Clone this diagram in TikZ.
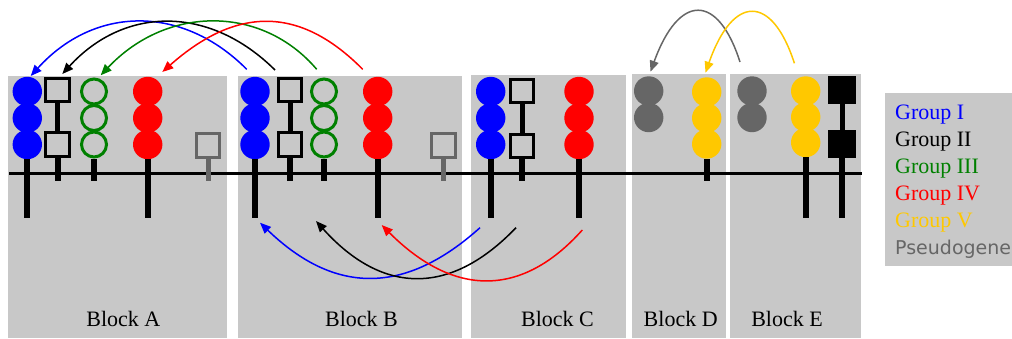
\documentclass[tikz,border=0pt]{standalone}
\usepackage{fontspec}
\setmainfont{Liberation Serif}
\newfontfamily\dejavu{DejaVu Sans}
\usepackage{xcolor}
\usepackage{tikz}
\usetikzlibrary{arrows.meta}
\definecolor{blockgray}{RGB}{200,200,200}
\definecolor{pseudo}{RGB}{102,102,102}
\definecolor{grpIII}{RGB}{0,128,0}
\definecolor{grpV}{RGB}{255,200,0}

\begin{document}
\begin{tikzpicture}[x=1pt, y=-1pt,
      blk/.style={fill=blockgray},
      lbl/.style={anchor=base, inner sep=0pt, font=\fontsize{22}{26}\selectfont},
      leg/.style={anchor=base west, inner sep=0pt, font=\fontsize{22}{26}\selectfont},
      full/.style={circle, fill=#1, minimum size=29.4pt, inner sep=0pt},
      ring/.style={circle, draw=#1, line width=3pt, minimum size=25pt, inner sep=0pt},
      box/.style={rectangle, draw=#1, fill=blockgray, line width=3pt, minimum size=23.7pt, inner sep=0pt},
      blackbox/.style={rectangle, fill=black, minimum size=28pt, inner sep=0pt},
      stem/.style={line width=6pt},
      link/.style={line width=5pt},
      hop/.style={-{Triangle[length=11pt, width=9pt]}, line width=1.5pt},
    ]
    \useasboundingbox (0,0) rectangle (1012,338);
    % blocks and legend box
    \path[blk] (8,76) rectangle (227,338);
    \path[blk] (238,76) rectangle (462,338);
    \path[blk] (471,75) rectangle (626,338);
    \path[blk] (632,74) rectangle (726,338);
    \path[blk] (730,74) rectangle (861,338);
    \path[blk] (885,93) rectangle (1016,266);
    \draw[line width=3pt] (9,173.3) -- (862,173.3);
    \coordinate (low) at (0,218);
    \coordinate (mid) at (0,181);

    % Block A
    \node[full=blue] (blueA1) at (27.3,91.5) {};
    \node[full=blue] (blueA2) at (27.3,118) {};
    \node[full=blue] (blueA3) at (27.3,144.5) {};
    \node[box=black] (sqA1) at (57.5,90) {};
    \node[box=black] (sqA2) at (57.5,144.5) {};
    \node[ring=grpIII] (grnA1) at (94,91.5) {};
    \node[ring=grpIII] (grnA2) at (94,118) {};
    \node[ring=grpIII] (grnA3) at (94,144.5) {};
    \node[full=red] (redA1) at (147.7,91.5) {};
    \node[full=red] (redA2) at (147.7,118) {};
    \node[full=red] (redA3) at (147.7,144.5) {};
    \node[box=pseudo] (psA) at (208,145.5) {};
    \draw[stem] (blueA3.south) -- (blueA3 |- low);
    \draw[link] (sqA1.south) -- (sqA2.north);
    \draw[stem] (sqA2.south) -- (sqA2 |- mid);
    \draw[stem] (grnA3.south) -- (grnA3 |- mid);
    \draw[stem] (redA3.south) -- (redA3 |- low);
    \draw[link, pseudo] (psA.south) -- (psA |- mid);

    % Block B
    \node[full=blue] (blueB1) at (255,91.5) {};
    \node[full=blue] (blueB2) at (255,118) {};
    \node[full=blue] (blueB3) at (255,144.5) {};
    \node[box=black] (sqB1) at (290,90) {};
    \node[box=black] (sqB2) at (290,144.5) {};
    \node[ring=grpIII] (grnB1) at (324,91.5) {};
    \node[ring=grpIII] (grnB2) at (324,118) {};
    \node[ring=grpIII] (grnB3) at (324,144.5) {};
    \node[full=red] (redB1) at (377.7,91.5) {};
    \node[full=red] (redB2) at (377.7,118) {};
    \node[full=red] (redB3) at (377.7,144.5) {};
    \node[box=pseudo] (psB) at (443.3,145.5) {};
    \draw[stem] (blueB3.south) -- (blueB3 |- low);
    \draw[link] (sqB1.south) -- (sqB2.north);
    \draw[stem] (sqB2.south) -- (sqB2 |- mid);
    \draw[stem] (grnB3.south) -- (grnB3 |- mid);
    \draw[stem] (redB3.south) -- (redB3 |- low);
    \draw[link, pseudo] (psB.south) -- (psB |- mid);

    % Block C
    \node[full=blue] (blueC1) at (490.7,91.5) {};
    \node[full=blue] (blueC2) at (490.7,118) {};
    \node[full=blue] (blueC3) at (490.7,144.5) {};
    \node[box=black] (sqC1) at (522,91) {};
    \node[box=black] (sqC2) at (522,146) {};
    \node[full=red] (redC1) at (579,91.5) {};
    \node[full=red] (redC2) at (579,118) {};
    \node[full=red] (redC3) at (579,144.5) {};
    \draw[stem] (blueC3.south) -- (blueC3 |- low);
    \draw[link] (sqC1.south) -- (sqC2.north);
    \draw[stem] (sqC2.south) -- (sqC2 |- mid);
    \draw[stem] (redC3.south) -- (redC3 |- low);

    % Block D
    \node[full=pseudo] (psD1) at (648.7,91) {};
    \node[full=pseudo] (psD2) at (648.7,117.5) {};
    \node[full=grpV] (yelD1) at (706.7,92) {};
    \node[full=grpV] (yelD2) at (706.7,118) {};
    \node[full=grpV] (yelD3) at (706.7,144) {};
    \draw[stem] (yelD3.south) -- (yelD3 |- mid);

    % Block E
    \node[full=pseudo] (psE1) at (752,91) {};
    \node[full=pseudo] (psE2) at (752,117.5) {};
    \node[full=grpV] (yelE1) at (805.7,91) {};
    \node[full=grpV] (yelE2) at (805.7,117) {};
    \node[full=grpV] (yelE3) at (805.7,142.5) {};
    \node[blackbox] (sqE1) at (842,89.5) {};
    \node[blackbox] (sqE2) at (842,143.8) {};
    \draw[stem] (yelE3.south) -- (yelE3 |- low);
    \draw[link] (sqE1.south) -- (sqE2.north);
    \draw[stem] (sqE2.south) -- (sqE2 |- low);

    % labels
    \node[lbl] (labA) at (123.3,326) {Block A};
    \node[lbl] (labB) at (361.5,326) {Block B};
    \node[lbl] (labC) at (557.5,326) {Block C};
    \node[lbl] (labD) at (680.7,326) {Block D};
    \node[lbl] (labE) at (787,326) {Block E};
    \node[leg, text=blue] (legI) at (895,119.3) {Group I};
    \node[leg] (legII) at (895,146.5) {Group II};
    \node[leg, text=grpIII] (legIII) at (895,173.5) {Group III};
    \node[leg, text=red] (legIV) at (895,200.5) {Group IV};
    \node[leg, text=grpV] (legV) at (895,227.5) {Group V};
    \node[leg, text=pseudo, font=\dejavu\fontsize{19}{23}\selectfont] (legP) at (895,254.3) {Pseudogene};

    % arrow ends
    \coordinate (blueTopS) at (246.7,69.3);  \coordinate (blueTopE) at (30.7,76);
    \coordinate (blackTopS) at (275,70);     \coordinate (blackTopE) at (62.3,74);
    \coordinate (grnTopS) at (316.7,69.3);   \coordinate (grnTopE) at (100.7,75.3);
    \coordinate (redTopS) at (362.7,69.3);   \coordinate (redTopE) at (162.3,72);
    \coordinate (blueLowS) at (480,227.7);   \coordinate (blueLowE) at (260,222.7);
    \coordinate (blackLowS) at (516,227.7);  \coordinate (blackLowE) at (316,221);
    \coordinate (redLowS) at (582.3,230);    \coordinate (redLowE) at (381.7,225);
    \coordinate (psTopS) at (740,62);        \coordinate (psTopE) at (650.5,71.7);
    \coordinate (yelTopS) at (794.4,63.3);   \coordinate (yelTopE) at (705.5,72.7);

    \draw[hop, blue] (blueTopS) .. controls (183,5) and (95,5) .. (blueTopE);
    \draw[hop, black] (blackTopS) .. controls (210,5.5) and (125,5.5) .. (blackTopE);
    \draw[hop, grpIII] (grnTopS) .. controls (262,5) and (167,5) .. (grnTopE);
    \draw[hop, red] (redTopS) .. controls (300,6) and (237,6) .. (redTopE);
    \draw[hop, blue] (blueLowS) .. controls (405,295) and (335,295) .. (blueLowE);
    \draw[hop, black] (blackLowS) .. controls (451,295.5) and (383,295.5) .. (blackLowE);
    \draw[hop, red] (redLowS) .. controls (522,297.5) and (454,297.5) .. (redLowE);
    \draw[hop, pseudo] (psTopS) .. controls (718,-7) and (679,-7) .. (psTopE);
    \draw[hop, grpV] (yelTopS) .. controls (772,-6) and (733,-6) .. (yelTopE);
  \end{tikzpicture}
\end{document}
